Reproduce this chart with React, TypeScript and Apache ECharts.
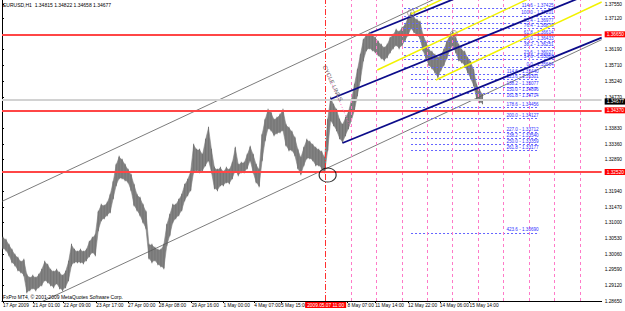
import React, { useEffect, useRef } from "react";
import * as echarts from "echarts";

const symbolTitle = "EURUSD,H1  1.34815 1.34822 1.34658 1.34677";
const copyrightText = "FxPro MT4, © 2001-2009 MetaQuotes Software Corp.";
const cycleText = "CYCLE LINES";

// price axis extent
const priceMin = 1.2865;
const priceMax = 1.3768;
const barIndexMax = 604;

// hourly bars sampled every 3 hours: high / low
const firstBarIndex = 1;
const barStep = 3;
const barHigh = [
  1.3054, 1.3048, 1.3033, 1.3018, 1.3003, 1.2994, 1.2982, 1.2988, 1.2943, 1.2934,
  1.294, 1.2934, 1.2943, 1.2958, 1.2982, 1.2973, 1.2958, 1.2952, 1.2958, 1.2949,
  1.294, 1.2952, 1.2982, 1.3033, 1.3018, 1.3012, 1.3018, 1.3012, 1.3018, 1.3042,
  1.3054, 1.3063, 1.3132, 1.3153, 1.315, 1.3159, 1.3183, 1.3222, 1.3273, 1.3297,
  1.3288, 1.3273, 1.3258,
  1.3243, 1.3213, 1.3183, 1.3174, 1.3153, 1.3132, 1.3033, 1.3033, 1.3024, 1.3018,
  1.3018, 1.3033, 1.3093, 1.3123, 1.3153, 1.3153, 1.3168, 1.3183, 1.3213, 1.3228,
  1.3252, 1.3333, 1.3318, 1.3318, 1.3303, 1.3348, 1.3384, 1.3318, 1.3264, 1.3258,
  1.3264, 1.3252, 1.3264, 1.3258, 1.3279, 1.3324, 1.3273, 1.3279, 1.3279, 1.3303,
  1.3327, 1.3303, 1.3273, 1.3258, 1.3363, 1.3408, 1.3438, 1.3429, 1.3408, 1.3414,
  1.3423, 1.3438, 1.3393, 1.3384, 1.3372, 1.3354, 1.3318, 1.3294, 1.3324, 1.3348,
  1.3342, 1.3333, 1.3324, 1.3318, 1.3312, 1.3294, 1.3408, 1.3474, 1.3453, 1.3438,
  1.3408, 1.3393, 1.3414, 1.3432, 1.3468, 1.3513, 1.3558, 1.3603,
  1.3648, 1.3663, 1.3669, 1.3663, 1.3654, 1.3642, 1.3633, 1.3624, 1.3633, 1.3654,
  1.3663, 1.3678, 1.3672, 1.3684, 1.3693, 1.3714, 1.3729, 1.3714, 1.3708, 1.3702,
  1.3663, 1.3642, 1.3618, 1.3612, 1.3603, 1.3594, 1.3603, 1.3618, 1.3642, 1.366,
  1.3672, 1.3654, 1.3633, 1.3618, 1.3612, 1.3594, 1.3582, 1.3558, 1.3513, 1.3498,
  1.3483,
];
const barLow = [
  1.3024, 1.3018, 1.3003, 1.2982, 1.2973, 1.2958, 1.2952, 1.2943, 1.2892, 1.2898,
  1.2904, 1.2898, 1.2907, 1.2913, 1.2928, 1.2922, 1.2913, 1.2907, 1.2919, 1.2904,
  1.2898, 1.2907, 1.2928, 1.2973, 1.2982, 1.2982, 1.2982, 1.2979, 1.2988, 1.3,
  1.3012, 1.3003, 1.3078, 1.3108, 1.3114, 1.3123, 1.3132, 1.3174, 1.3213, 1.3234,
  1.3234, 1.3228, 1.3222,
  1.3198, 1.3153, 1.3138, 1.3123, 1.3102, 1.3084, 1.2994, 1.2982, 1.2988, 1.2976,
  1.297, 1.2964, 1.3033, 1.3063, 1.3102, 1.3114, 1.3123, 1.3138, 1.3168, 1.3183,
  1.3198, 1.3252, 1.3258, 1.3252, 1.3258, 1.3273, 1.3288, 1.3252, 1.3204, 1.3198,
  1.3213, 1.3213, 1.3222, 1.3219, 1.3234, 1.3258, 1.3243, 1.3252, 1.3252, 1.3264,
  1.3288, 1.3252, 1.3222, 1.321, 1.3288, 1.3348, 1.3384, 1.3378, 1.3363, 1.3369,
  1.3372, 1.3378, 1.3333, 1.3318, 1.3318, 1.3303, 1.3264, 1.3246, 1.3273, 1.3294,
  1.3294, 1.3288, 1.3273, 1.3273, 1.3264, 1.3252, 1.3318, 1.3408, 1.3393, 1.3378,
  1.3354, 1.3342, 1.3363, 1.3384, 1.3408, 1.3438, 1.3483, 1.3528,
  1.3588, 1.3618, 1.3624, 1.3618, 1.3612, 1.3603, 1.3594, 1.3588, 1.3597, 1.3612,
  1.3624, 1.3633, 1.3624, 1.3633, 1.3648, 1.3663, 1.3684, 1.3672, 1.3663, 1.3654,
  1.3618, 1.3594, 1.3573, 1.3564, 1.3552, 1.3537, 1.3558, 1.3573, 1.3594, 1.3618,
  1.3633, 1.3612, 1.3588, 1.3582, 1.3573, 1.3552, 1.3534, 1.3513, 1.3474, 1.3462,
  1.3459,
];

const yTickValues = [
  1.3755, 1.3712, 1.3619, 1.3571, 1.3524, 1.3477, 1.3383, 1.3336,
  1.3289, 1.3194, 1.3147, 1.31, 1.3053, 1.3006, 1.2959, 1.2912, 1.2865,
];
const timeTickIdx = [1, 31, 62, 95, 127, 158, 191, 223, 254, 281, 348, 376, 409, 441, 471];
const timeTickLabels = [
  "17 Apr 2009", "21 Apr 01:00", "22 Apr 09:00", "23 Apr 17:00", "27 Apr 00:00",
  "28 Apr 08:00", "29 Apr 16:00", "1 May 00:00", "4 May 07:00", "5 May 15:00",
  "8 May 07:00", "11 May 14:00", "12 May 22:00", "14 May 06:00", "15 May 14:00",
];

const redLevels = [1.3665, 1.3437, 1.3252];
const lastPrice = 1.34677;
const markedTimeIdx = 326;
const markedTimeLabel = "2009.05.07 11:00";
const cycleLineIdx = [352, 377, 403, 428, 454, 480, 505, 531, 556, 582];
const cycleBaseLine = [[327, 1.3555], [351, 1.3387]];

// channel lines: [barIndex, price] end points
const grayChannel = [
  [[0, 1.3164], [604, 1.4005]],
  [[0, 1.2807], [604, 1.3649]],
];
const navyPitchfork = [
  [[331, 1.3471], [604, 1.3801]],
  [[343, 1.3339], [604, 1.3655]],
  [[371, 1.3669], [604, 1.3951]],
];
const yellowLines = [
  [[437, 1.3528], [604, 1.3762]],
  [[378, 1.3558], [604, 1.3875]],
  [[412, 1.3726], [604, 1.3995]],
];

// Fibonacci objects
const fibP0 = 1.37201;
const fibP100 = 1.35664;
const fibRetraceLevels = [114.6, 100, 85.4, 76.4, 61.8, 50, 38.2, 23.6, 14.6, 0];
const fibExtLevels = [114.6, 123.6, 138.2, 150, 161.8, 178.6, 200, 227, 238.2, 250, 261.8, 423.6];
const fibRetraceSpan = [405, 556];
const fibExtSpan = [412, 541];

const circledPoint = [[328, 1.3243]];
const smallMarks = [[412, 1.3729], [455, 1.3666]];

export default function App() {
  const ref = useRef<HTMLDivElement>(null);
  useEffect(() => {
    if (!ref.current) return;
    const chart = echarts.init(ref.current, null, { renderer: "svg" });
    const ff = "'Liberation Sans', Arial, sans-serif";
    const fs = 4.8;
    const barData = barHigh.map((h, k) => [firstBarIndex + k * barStep, barLow[k], h]);

    const lineSeries = (pts: number[][], color: string, width: number, type: any = "solid", z = 4) => ({
      type: "line",
      data: pts,
      symbol: "none",
      silent: true,
      z,
      clip: true,
      lineStyle: { color, width, type },
    });

    // retracement: 0 at fibP100 (low), 100 at fibP0 (high)
    const retrace = fibRetraceLevels.map((l) => {
      const p = fibP100 + (l / 100) * (fibP0 - fibP100);
      return [
        { coord: [fibRetraceSpan[0], p], name: `${l.toFixed(1)} - ${p.toFixed(5)}` },
        { coord: [fibRetraceSpan[1], p] },
      ];
    });
    const ext = fibExtLevels.map((l) => {
      const p = fibP0 + (l / 100) * (fibP100 - fibP0);
      return [
        { coord: [fibExtSpan[0], p], name: `${l.toFixed(1)} - ${p.toFixed(5)}` },
        { coord: [fibExtSpan[1], p] },
      ];
    });

    const fibMarkLine = (data: any[]) => ({
      silent: true,
      precision: 6,
      symbol: ["none", "none"],
      lineStyle: { color: "#6464ff", width: 1, type: [2, 2] },
      label: {
        show: true,
        position: "insideEndTop",
        distance: 0.5,
        formatter: "{b}",
        color: "#2f2fff",
        fontSize: 4.6,
        fontFamily: ff,
      },
      data,
    });

    const series: any[] = [
      {
        type: "custom",
        z: 3,
        silent: true,
        data: barData,
        encode: { x: 0, y: [1, 2] },
        renderItem: (p: any, api: any) => {
          const k = p.dataIndex;
          const cur = barData[k];
          const nxt = barData[Math.min(k + 1, barData.length - 1)];
          const a1 = api.coord([cur[0], cur[2]]);
          const a2 = api.coord([cur[0], cur[1]]);
          const b1 = api.coord([nxt[0], nxt[2]]);
          const b2 = api.coord([nxt[0], nxt[1]]);
          const children: any[] = [];
          if (k < barData.length - 1) {
            children.push({
              type: "polygon",
              shape: { points: [a1, b1, b2, a2] },
              style: { fill: "#828282", stroke: "#828282", lineWidth: 0.6 },
            });
          }
          children.push({
            type: "rect",
            shape: { x: a1[0] - 0.5, y: a1[1] - 1.2, width: 1, height: a2[1] - a1[1] + 2.4 },
            style: { fill: "#747474" },
          });
          return { type: "group", children };
        },
      },
      ...grayChannel.map((l) => lineSeries(l, "#5a5a5a", 0.8)),
      ...navyPitchfork.map((l) => lineSeries(l, "#0c0c8a", 1.8, "solid", 5)),
      ...yellowLines.map((l) => lineSeries(l, "#f2f200", 1.4, "solid", 5)),
      lineSeries(cycleBaseLine, "#ff70c0", 1, [1, 2], 5),
      {
        type: "line",
        data: [],
        z: 6,
        markLine: fibMarkLine(retrace),
      },
      {
        type: "line",
        data: [],
        z: 6,
        markLine: fibMarkLine(ext),
      },
      {
        type: "line",
        data: [],
        z: 6,
        markLine: {
          silent: true,
          precision: 6,
          symbol: ["none", "none"],
          lineStyle: { color: "#ff7ac8", width: 1, type: [3, 3] },
          label: { show: false },
          data: cycleLineIdx.map((v) => ({ xAxis: v })),
        },
      },
      {
        type: "line",
        data: [],
        z: 7,
        markLine: {
          silent: true,
          precision: 6,
          symbol: ["none", "none"],
          lineStyle: { color: "#ff3030", width: 1, type: [6, 2, 1, 2] },
          label: {
            show: true,
            position: "start",
            distance: 1,
            formatter: markedTimeLabel,
            color: "#ffffff",
            backgroundColor: "#ff0000",
            padding: [0.5, 2, 0.5, 2],
            fontSize: fs,
            fontFamily: ff,
          },
          data: [{ xAxis: markedTimeIdx }],
        },
      },
      {
        type: "line",
        data: [],
        z: 7,
        markLine: {
          silent: true,
          precision: 6,
          symbol: ["none", "none"],
          lineStyle: { color: "#d2d2d2", width: 2, type: "solid" },
          label: {
            show: true,
            position: "end",
            distance: 3,
            formatter: () => lastPrice.toFixed(5),
            color: "#ffffff",
            backgroundColor: "#000000",
            padding: [0.5, 4, 0.5, 2],
            fontSize: fs,
            fontFamily: ff,
            offset: [0, 1.5],
          },
          data: [{ yAxis: lastPrice }],
        },
      },
      {
        type: "line",
        data: [],
        z: 8,
        markLine: {
          silent: true,
          precision: 6,
          symbol: ["none", "none"],
          lineStyle: { color: "#ff4646", width: 2, type: "solid" },
          label: {
            show: true,
            position: "end",
            distance: 3,
            formatter: (p: any) => Number(p.value).toFixed(5),
            color: "#ffffff",
            backgroundColor: "#ff0000",
            padding: [0.5, 4, 0.5, 2],
            fontSize: fs,
            fontFamily: ff,
          },
          data: redLevels.map((v) => ({ yAxis: v })),
        },
      },
      {
        type: "scatter",
        data: circledPoint,
        z: 9,
        silent: true,
        symbol: "circle",
        symbolSize: [17, 14],
        itemStyle: { color: "rgba(0,0,0,0)", borderColor: "#000000", borderWidth: 1.1 },
      },
      {
        type: "scatter",
        data: smallMarks,
        z: 9,
        silent: true,
        symbol: "circle",
        symbolSize: 7,
        itemStyle: { color: "rgba(0,0,0,0)", borderColor: "#9a8a8a", borderWidth: 1 },
      },
    ];

    chart.setOption({
      animation: false,
      backgroundColor: "#ffffff",
      grid: { left: 1, right: 20, top: 0, bottom: 10, containLabel: false },
      xAxis: {
        type: "value",
        min: 0,
        max: barIndexMax,
        splitLine: { show: false },
        axisLine: { show: true, lineStyle: { color: "#000000", width: 1 } },
        axisTick: { show: true, customValues: timeTickIdx, length: 2, lineStyle: { color: "#000" } },
        axisLabel: {
          customValues: timeTickIdx,
          showMinLabel: true,
          showMaxLabel: true,
          formatter: (v: number) => {
            const k = timeTickIdx.indexOf(Math.round(v));
            return k >= 0 ? timeTickLabels[k] : "";
          },
          align: "left",
          margin: 2,
          color: "#000000",
          fontSize: fs,
          fontFamily: ff,
        },
      },
      yAxis: [
        {
          type: "value",
          position: "right",
          min: priceMin,
          max: priceMax,
          splitLine: { show: false },
          axisLine: { show: true, lineStyle: { color: "#000000", width: 1 } },
          axisTick: { show: true, customValues: yTickValues, length: 2, lineStyle: { color: "#000" } },
          axisLabel: {
            customValues: yTickValues,
            showMinLabel: true,
            showMaxLabel: true,
            formatter: (v: number) => v.toFixed(5),
            margin: 3,
            color: "#000000",
            fontSize: fs,
            fontFamily: ff,
          },
        },
        {
          type: "value",
          position: "left",
          min: priceMin,
          max: priceMax,
          splitLine: { show: false },
          axisLine: { show: true, lineStyle: { color: "#000000", width: 1 } },
          axisTick: { show: false },
          axisLabel: { show: false },
        },
      ],
      series,
    });

    const c = chart.convertToPixel({ gridIndex: 0 }, [333, 1.3518]) as number[];
    chart.setOption({
      graphic: [
        {
          type: "text",
          left: 3,
          top: 2,
          z: 20,
          style: { text: symbolTitle, fill: "#000", fontSize: 5, fontFamily: ff },
        },
        {
          type: "text",
          left: 3,
          top: 294,
          z: 20,
          style: { text: copyrightText, fill: "#000", fontSize: 5, fontFamily: ff },
        },
        {
          type: "text",
          x: c[0],
          y: c[1],
          rotation: -1.13,
          z: 20,
          style: {
            text: cycleText,
            fill: "#666666",
            fontSize: 6,
            fontFamily: ff,
            align: "center",
            verticalAlign: "middle",
          },
        },
      ],
    });

    return () => chart.dispose();
  }, []);
  return (
    <div style={{ position: "fixed", left: 0, top: 0, width: 625, height: 311, background: "#fff" }}>
      <div ref={ref} style={{ width: 625, height: 311 }} />
    </div>
  );
}
